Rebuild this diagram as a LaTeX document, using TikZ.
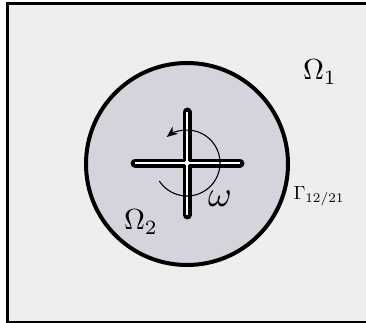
\documentclass[tikz,border=0pt]{standalone}
\usetikzlibrary{arrows.meta}
\definecolor{outerfill}{RGB}{238,238,238}
\definecolor{innerfill}{RGB}{213,212,220}
\begin{document}
\begin{tikzpicture}[x=1pt,y=-1pt,
  bar/.style={line width=9pt,line cap=round,black},
  barin/.style={line width=2.6pt,white},
  lbl/.style={inner sep=0pt}]
\useasboundingbox (0,0) rectangle (366,323);
\draw[line width=3pt,fill=outerfill] (7.5,3.5) rectangle (369,322.5);
\node[circle,draw,line width=4pt,fill=innerfill,minimum size=202pt,inner sep=0pt] (dom) at (187,164) {};
% cross
\coordinate (c) at (187,163);
\coordinate (t) at (187,112);
\coordinate (b) at (187,215);
\coordinate (l) at (135,163);
\coordinate (r) at (240,163);
\draw[bar] (t) -- (b);
\draw[bar] (l) -- (r);
\draw[barin] (t) -- (b);
\draw[barin] (l) -- (r);
\fill[white] (c) circle (2.6pt);
% rotation arrow
\draw[line width=1.1pt,-{Stealth[length=11pt,width=9pt]}] (c) ++(-147:33pt) arc[start angle=-147,end angle=128,radius=33pt];
\node[lbl,scale=3.6] (om) at (220,199) {$\omega$};
\node[lbl,scale=2.9] (o1) at (320,72) {$\Omega_1$};
\node[lbl,scale=2.9] (o2) at (141,222) {$\Omega_2$};
\node[lbl,scale=1.9] (g) at (319,196) {$\Gamma_{12/21}$};
\end{tikzpicture}
\end{document}
